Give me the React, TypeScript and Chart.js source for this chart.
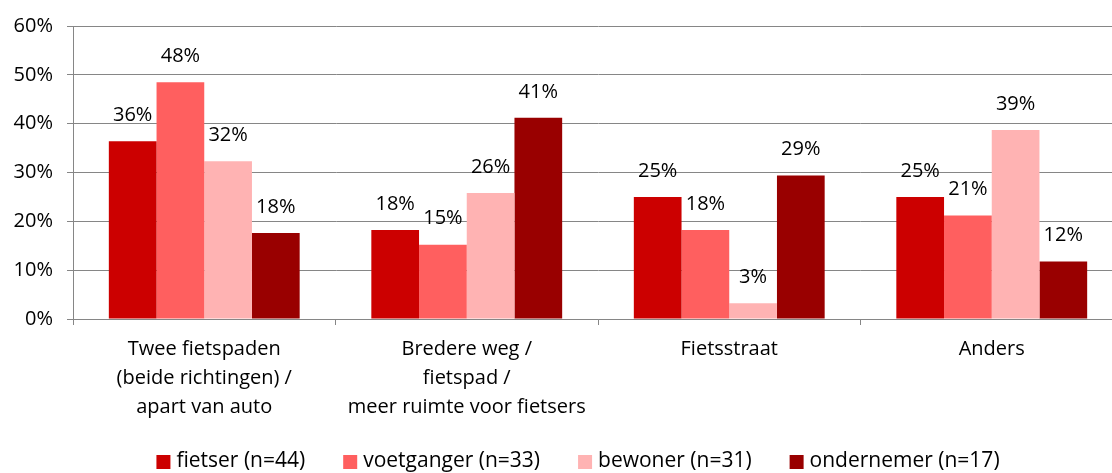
import React, { useEffect, useRef } from "react";
import { Chart, registerables } from "chart.js";

Chart.register(...registerables);

const categories: string[][] = [
  ["Twee fietspaden", "(beide richtingen) /", "apart van auto"],
  ["Bredere weg /", "fietspad /", "meer ruimte voor fietsers"],
  ["Fietsstraat"],
  ["Anders"],
];
const seriesNames = ["fietser (n=44)", "voetganger (n=33)", "bewoner (n=31)", "ondernemer (n=17)"];
const fietser = [36.4, 18.2, 25.0, 25.0];
const voetganger = [48.48, 15.2, 18.2, 21.2];
const bewoner = [32.3, 25.8, 3.2, 38.7];
const ondernemer = [17.6, 41.2, 29.4, 11.8];
const colors = ["#CC0000", "#FF5F5F", "#FFB3B3", "#990000"];
const yTicks = [0, 10, 20, 30, 40, 50, 60];

const FONT = "'Open Sans', 'Noto Sans', sans-serif";

const valueLabels = {
  id: "valueLabels",
  afterDatasetsDraw(chart: any) {
    const ctx = chart.ctx;
    ctx.save();
    ctx.font = `20px ${FONT}`;
    ctx.fillStyle = "#000";
    ctx.textAlign = "center";
    ctx.textBaseline = "middle";
    chart.data.datasets.forEach((ds: any, i: number) => {
      const meta = chart.getDatasetMeta(i);
      meta.data.forEach((bar: any, j: number) => {
        ctx.fillText(`${Math.round(ds.data[j])}%`, bar.x, bar.y - 26);
      });
    });
    ctx.restore();
  },
};

const bottomLegend = {
  id: "bottomLegend",
  afterDraw(chart: any) {
    const ctx = chart.ctx;
    ctx.save();
    ctx.font = `21px ${FONT}`;
    ctx.textBaseline = "middle";
    ctx.textAlign = "left";
    const box = 14;
    const gapBoxText = 6;
    const gapItems = 38;
    const items = chart.data.datasets.map((ds: any) => ({
      label: ds.label,
      color: ds.backgroundColor,
      w: ctx.measureText(ds.label).width,
    }));
    const total =
      items.reduce((s: number, it: any) => s + box + gapBoxText + it.w, 0) +
      gapItems * (items.length - 1);
    let x = chart.width / 2 - total / 2;
    const yc = 461;
    items.forEach((it: any) => {
      ctx.fillStyle = it.color;
      ctx.fillRect(x, yc - box / 2 + 1, box, box);
      ctx.fillStyle = "#000";
      ctx.fillText(it.label, x + box + gapBoxText, yc);
      x += box + gapBoxText + it.w + gapItems;
    });
    ctx.restore();
  },
};

export default function App() {
  const ref = useRef<HTMLCanvasElement | null>(null);

  useEffect(() => {
    document.body.style.overflow = "hidden";
    const values = [fietser, voetganger, bewoner, ondernemer];
    const chart = new Chart(ref.current as HTMLCanvasElement, {
      type: "bar",
      data: {
        labels: categories,
        datasets: values.map((v, i) => ({
          label: seriesNames[i],
          data: v,
          backgroundColor: colors[i],
          borderWidth: 0,
          barPercentage: 1,
          categoryPercentage: 0.727,
        })),
      },
      options: {
        animation: false,
        responsive: false,
        maintainAspectRatio: false,
        layout: { padding: { top: 23, bottom: 0, left: 0, right: 33 } },
        plugins: {
          legend: { display: false },
          tooltip: { enabled: false },
        },
        scales: {
          x: {
            offset: true,
            grid: {
              offset: true,
              drawOnChartArea: false,
              drawTicks: true,
              tickLength: 6,
              color: "#868686",
            },
            border: { color: "#868686", width: 1 },
            ticks: {
              color: "#000",
              font: { family: FONT, size: 20, lineHeight: 1.45 },
              padding: 10,
              maxRotation: 0,
              autoSkip: false,
            },
            afterFit(scale: any) {
              scale.height = 473 - 319;
            },
          },
          y: {
            min: 0,
            max: 60,
            afterBuildTicks(scale: any) {
              scale.ticks = yTicks.map((v) => ({ value: v }));
            },
            grid: {
              color: "#868686",
              tickLength: 6,
              drawTicks: true,
            },
            border: { color: "#868686", width: 1 },
            ticks: {
              color: "#000",
              font: { family: FONT, size: 20 },
              padding: 14,
              callback: (v: any) => `${v}%`,
            },
            afterFit(scale: any) {
              scale.width = 73;
            },
          },
        },
      },
      plugins: [valueLabels, bottomLegend],
    });
    return () => chart.destroy();
  }, []);

  return (
    <div
      style={{
        position: "absolute",
        left: 0,
        top: 0,
        width: 1112,
        height: 473,
        overflow: "hidden",
        background: "#fff",
      }}
    >
      <canvas ref={ref} width={1156} height={473} style={{ width: 1156, height: 473, display: "block" }} />
    </div>
  );
}
